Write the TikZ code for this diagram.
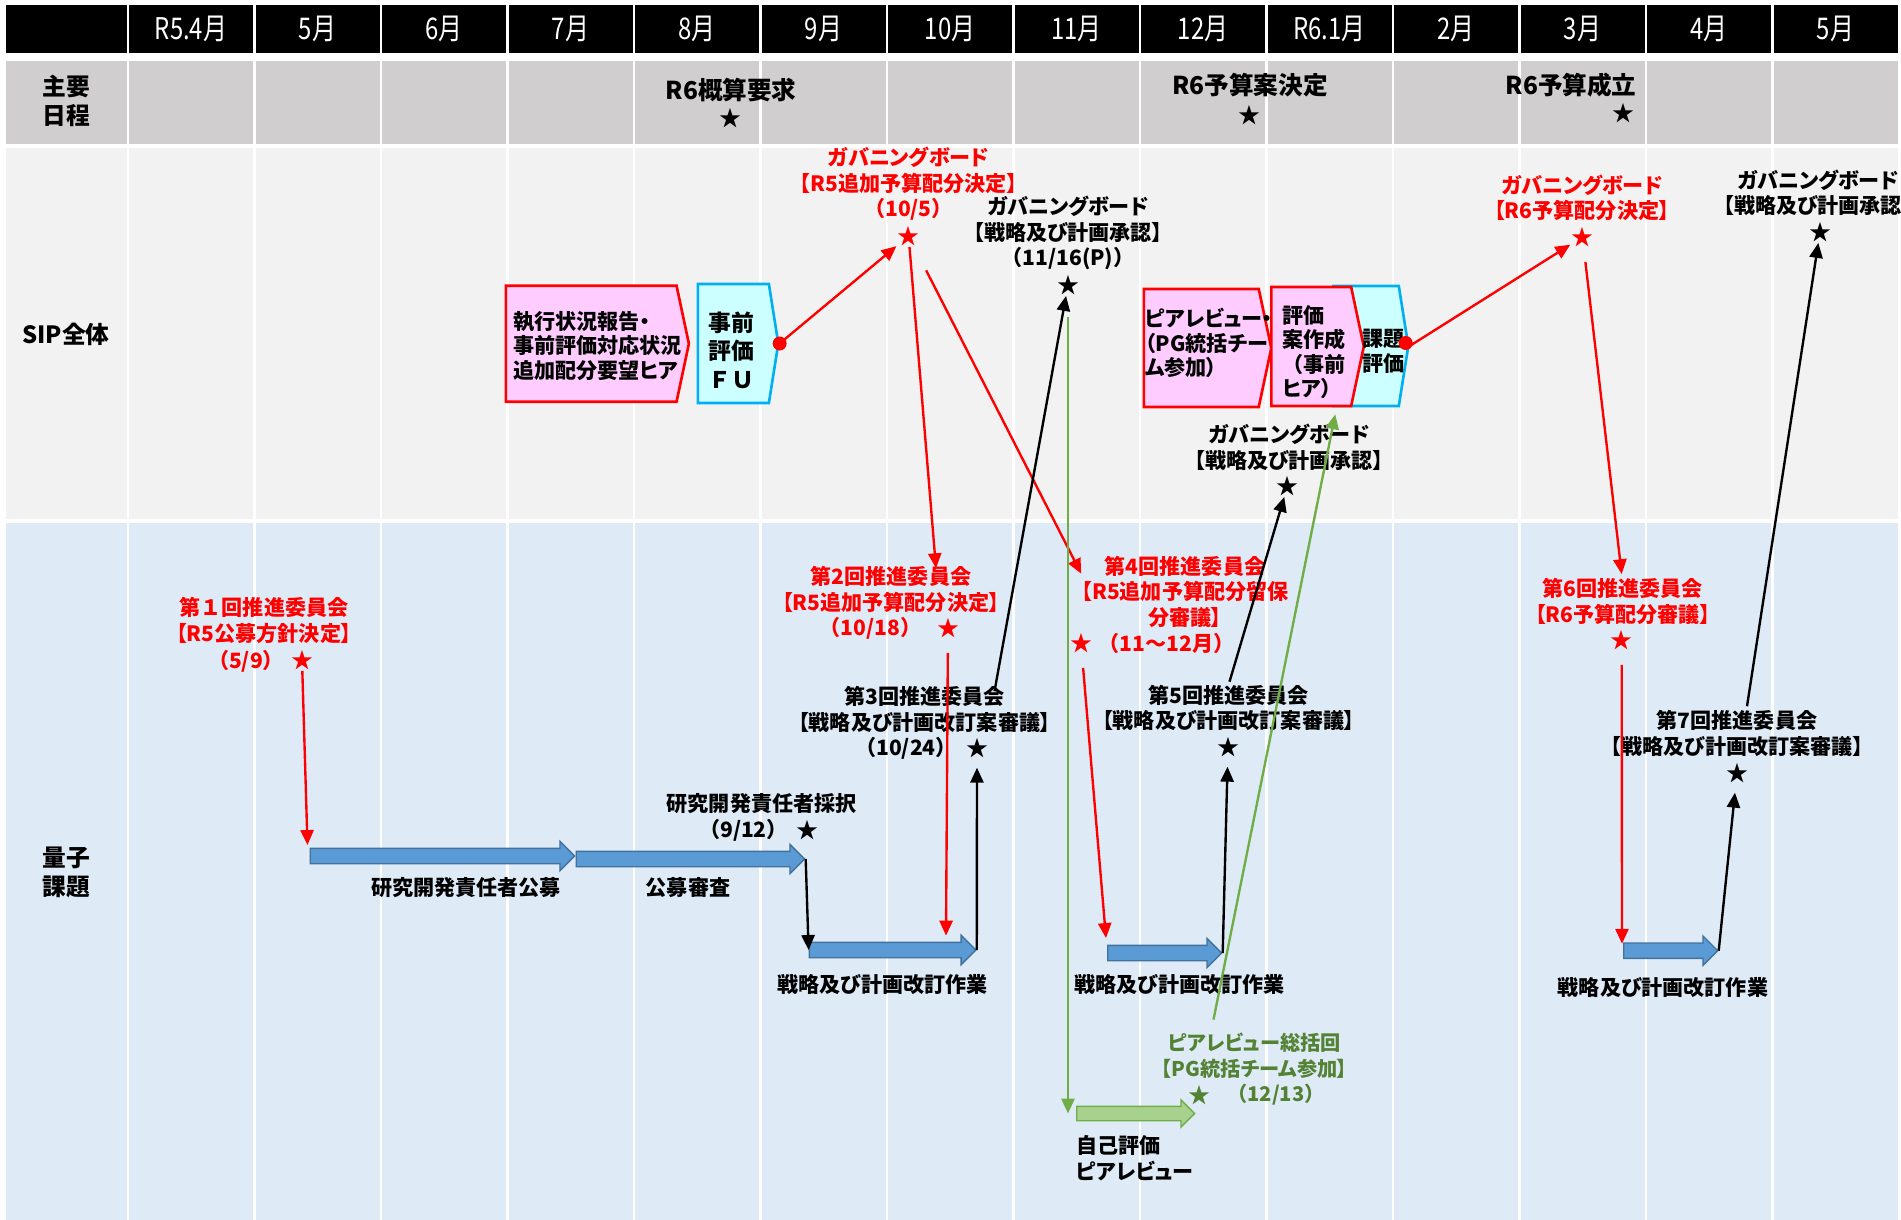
\documentclass[tikz,border=0pt]{standalone}
\usepackage{fontspec}
\setmainfont{Noto Sans CJK JP}[RawFeature=+palt]
\newfontfamily\narrowfont{Noto Sans CJK JP}[FakeStretch=0.8]
\newfontfamily\fullwidthfont{Noto Sans CJK JP}
\usetikzlibrary{positioning, calc, arrows.meta, shapes.arrows, shapes.symbols}

\definecolor{schedgray}{HTML}{D0CECE}
\definecolor{sipgray}{HTML}{F2F2F2}
\definecolor{qblue}{HTML}{DEEBF7}
\definecolor{boxpink}{HTML}{FFCCFF}
\definecolor{boxcyan}{HTML}{CCFFFF}
\definecolor{cyanline}{HTML}{00B0F0}
\definecolor{barblue}{HTML}{5B9BD5}
\definecolor{barline}{HTML}{41719C}
\definecolor{bargreen}{HTML}{A9D18E}
\definecolor{greenline}{HTML}{70AD47}
\definecolor{greentxt}{HTML}{548235}

\begin{document}
\begin{tikzpicture}[
    x=0.02cm, y=-0.02cm,
    monthlbl/.style={text=white, font=\narrowfont\fontsize{17}{17}\selectfont, inner sep=0pt},
    rowlbl/.style={font=\bfseries\fontsize{13.5}{16.5}\selectfont, align=center, inner sep=0pt},
    schedlbl/.style={font=\bfseries\fontsize{14}{16}\selectfont, inner sep=0pt},
    evt/.style={font=\bfseries\fontsize{12}{14.5}\selectfont, align=center, inner sep=0pt},
    evtred/.style={evt, text=red},
    evtgreen/.style={evt, text=greentxt, font=\bfseries\fontsize{11.5}{14.5}\selectfont},
    evtdate/.style={evt, font=\fullwidthfont\bfseries\fontsize{12}{14.5}\selectfont},
    evstar/.style={font=\fontsize{12.5}{12.5}\selectfont, inner sep=0.5pt},
    boxtxt/.style={font=\bfseries\fontsize{12}{14}\selectfont, align=left, inner sep=0pt, anchor=west},
    pinkbox/.style={signal, signal to=east, signal pointer angle=156, draw=red,
        line width=1.5pt, fill=boxpink, inner sep=0pt, anchor=west},
    cyanbox/.style={signal, signal to=east, signal pointer angle=162, draw=cyanline,
        line width=1.5pt, fill=boxcyan, inner sep=0pt, anchor=west},
    bar/.style={single arrow, single arrow head extend=0.14cm, minimum width=0.56cm,
        fill=barblue, draw=barline, line width=0.8pt, inner sep=0pt,
        inner ysep=0.14cm, anchor=west},
    greenbar/.style={bar, fill=bargreen, draw=greenline, minimum width=0.52cm,
        inner ysep=0.13cm, single arrow head extend=0.13cm},
    reddot/.style={circle, fill=red, minimum size=0.28cm, inner sep=0pt},
    conn/.style={-{Triangle[length=8.5pt, width=7.5pt]}, line width=1.35pt},
    redarr/.style={conn, red},
    blkarr/.style={conn, black},
    grnarr/.style={conn, greenline},
  ]
  \useasboundingbox (0,0) rectangle (1901,1220);
  \clip (0,0) rectangle (1901,1220);

  %% ── GRID ────────────────────────────────────────────────────────────────
  \fill[white]     (0,0)   rectangle (1901,1220);
  \fill[black]     (6,5)   rectangle (126.5,53);
  \fill[schedgray] (6,61)  rectangle (126.5,144);
  \fill[sipgray]   (6,148) rectangle (126.5,519);
  \fill[qblue]     (6,523) rectangle (126.5,1220);
  \foreach \m [count=\k from 0] in {R5.4月,5月,6月,7月,8月,9月,10月,11月,12月,R6.1月,2月,3月,4月,5月}{
    \pgfmathsetmacro\xl{129+126.5*\k}
    \pgfmathsetmacro\xr{\xl+124}
    \fill[black]     (\xl,5)   rectangle (\xr,53);
    \fill[schedgray] (\xl,61)  rectangle (\xr,144);
    \fill[sipgray]   (\xl,148) rectangle (\xr,519);
    \fill[qblue]     (\xl,523) rectangle (\xr,1220);
    \node[monthlbl] (m\k) at ({\xl+62},29) {\m};
  }

  %% ── ROW LABELS ──────────────────────────────────────────────────────────
  \node[rowlbl] (lsched) at (66,101) {主要\\日程};
  \node[rowlbl] (lsip)   at (66,334) {SIP全体};
  \node[rowlbl] (lquant) at (66,872) {量子\\課題};

  %% ── MAIN SCHEDULE ───────────────────────────────────────────────────────
  \node[schedlbl] (gaisan)   at (731,90)  {R6概算要求};
  \node[evstar]   (sgaisan)  at (730,118) {★};
  \node[schedlbl] (yosanan)  at (1250,85) {R6予算案決定};
  \node[evstar]   (syosanan) at (1249,115) {★};
  \node[schedlbl] (seiritsu) at (1571,85) {R6予算成立};
  \node[evstar]   (sseiritsu) at (1623,113) {★};

  %% ── SIP BOXES ───────────────────────────────────────────────────────────
  \node[pinkbox, minimum width=3.66cm, minimum height=2.32cm] (hearbox) at (504.6,343.7) {};
  \node[boxtxt] (heartxt) at (513,346) {執行状況報告・\\事前評価対応状況\\追加配分要望ヒア};
  \node[cyanbox, minimum width=1.61cm, minimum height=2.38cm] (fubox) at (696.5,343.5) {};
  \node[boxtxt, align=center, anchor=center, font=\fullwidthfont\bfseries\fontsize{13}{16.3}\selectfont]
    (futxt) at (731,350) {事前\\評価\\ＦＵ};
  \node[pinkbox, minimum width=2.55cm, minimum height=2.36cm] (pgbox) at (1142.5,348) {};
  \node[boxtxt] (pgtxt) at (1145,343) {ピアレビュー・\\（PG統括チー\\ム参加）};
  \node[cyanbox, minimum width=1.5cm, minimum height=2.4cm] (kadaibox) at (1332,346) {};
  \node[pinkbox, minimum width=1.85cm, minimum height=2.38cm] (hyoukabox) at (1270,346.5) {};
  \node[boxtxt] (hyoukatxt) at (1282,352)
    {評価\\案作成\\{\fullwidthfont （}事前\\ヒア{\fullwidthfont ）}};
  \node[boxtxt] (kadaitxt) at (1362,351) {課題\\評価};

  %% ── SIP EVENTS ──────────────────────────────────────────────────────────
  \node[evtred] (gb1) at (908.5,184)
    {ガバニングボード\\【R5追加予算配分決定】\\{\fullwidthfont （10/5）}};
  \node[evstar, text=red] (sgb1) at (908.6,236) {★};
  \node[evt] (gb2) at (1068,233)
    {ガバニングボード\\【戦略及び計画承認】\\{\fullwidthfont （11/16(P)）}};
  \node[evstar] (sgb2) at (1068,285) {★};
  \node[evt] (gb3) at (1289,447.5) {ガバニングボード\\【戦略及び計画承認】};
  \node[evstar] (sgb3) at (1287.5,486) {★};
  \node[evtred] (gb4) at (1582,198) {ガバニングボード\\【R6予算配分決定】};
  \node[evstar, text=red] (sgb4) at (1582.5,237) {★};
  \node[evt] (gb5) at (1818,193) {ガバニングボード\\【戦略及び計画承認】};
  \node[evstar] (sgb5) at (1820,232) {★};

  %% ── QUANTUM EVENTS ──────────────────────────────────────────────────────
  \node[evtred] (c1top)  at (264,620.5) {第{\fullwidthfont １}回推進委員会\\【R5公募方針決定】};
  \node[evtdate, text=red] (c1date) at (246,661) {（5/9）};
  \node[evstar, text=red] (sc1) at (302,660) {★};
  \node[evtred] (c2top)  at (891,589.5) {第2回推進委員会\\【R5追加予算配分決定】};
  \node[evtdate, text=red] (c2date) at (870.5,628) {（10/18）};
  \node[evstar, text=red] (sc2) at (948,628) {★};
  \node[evt] (c3top)  at (924.5,709.5) {第3回推進委員会\\【戦略及び計画改訂案審議】};
  \node[evtdate] (c3date) at (906,748) {（10/24）};
  \node[evstar] (sc3) at (977,748) {★};
  \node[evtred] (c4top)  at (1185,591.7) {第4回推進委員会\\【R5追加予算配分留保\\分審議】};
  \node[evtdate, text=red] (c4date) at (1166.5,643) {（11～12月）};
  \node[evstar, text=red] (sc4) at (1081,643) {★};
  \node[evt] (c5top) at (1228.5,708) {第5回推進委員会\\【戦略及び計画改訂案審議】};
  \node[evstar] (sc5) at (1228,747) {★};
  \node[evtred] (c6top) at (1622.7,601.5) {第6回推進委員会\\【R6予算配分審議】};
  \node[evstar, text=red] (sc6) at (1621.7,640) {★};
  \node[evt] (c7top) at (1737,733.5) {第7回推進委員会\\【戦略及び計画改訂案審議】};
  \node[evstar] (sc7) at (1737,773) {★};
  \node[evt] (saitaku)     at (761.7,804) {研究開発責任者採択};
  \node[evtdate] (saitakudate) at (743.5,830) {（9/12）};
  \node[evstar] (ssaitaku) at (807,830) {★};
  \node[evtgreen] (pgsum)     at (1254.5,1055.5) {ピアレビュー総括回\\【PG統括チーム参加】};
  \node[evtdate, text=greentxt, font=\fullwidthfont\bfseries\fontsize{11.5}{14.5}\selectfont]
    (pgsumdate) at (1276,1095) {（12/13）};
  \node[evstar, text=greentxt] (spgsum) at (1199,1095) {★};

  %% ── WORK BARS ───────────────────────────────────────────────────────────
  \node[bar, minimum height=5.29cm] (ba1) at (309.5,856) {};
  \node[bar, minimum height=4.57cm] (ba2) at (575.5,859) {};
  \node[bar, minimum height=3.33cm] (ba3) at (808.6,950) {};
  \node[bar, minimum height=2.28cm] (ba4) at (1107,953) {};
  \node[bar, minimum height=1.88cm] (ba5) at (1623,950.7) {};
  \node[greenbar, minimum height=2.36cm] (bag) at (1076,1113.5) {};
  \node[evt] (lkoubo)   at (466,888)    {研究開発責任者公募};
  \node[evt] (lshinsa)  at (688,888)    {公募審査};
  \node[evt] (lkaitei1) at (882.5,985)  {戦略及び計画改訂作業};
  \node[evt] (lkaitei2) at (1179.6,985) {戦略及び計画改訂作業};
  \node[evt] (lkaitei3) at (1663,988)   {戦略及び計画改訂作業};
  \node[evt, align=left, anchor=west] (ljiko) at (1076,1158) {自己評価\\ピアレビュー};

  %% ── ARROWS ──────────────────────────────────────────────────────────────
  \draw[redarr] (fubox.east) -- (sgb1);
  \draw[redarr] (sgb1) -- ($(c2top.north)+(45,2)$);
  \draw[redarr, shorten <=15pt] (sgb1) -- ($(c4top.north west)+(0,18)$);
  \draw[redarr] (sc1) -- ($(ba1.west)+(-2,-11)$);
  \draw[redarr, shorten <=8pt] (sc2) -- ($(sc2 |- ba3.north)+(-2,-6)$);
  \draw[redarr, shorten <=8pt] (sc4) -- ($(ba4.west)+(-1,-15)$);
  \draw[redarr] (kadaibox.east) -- (sgb4);
  \draw[redarr, shorten <=8pt] (sgb4) -- ($(c6top.north)+(-1,-4)$);
  \draw[redarr, shorten <=8pt] (sc6) -- ($(ba5.west)+(-1,-7)$);
  \draw[blkarr] (ba2.east) -- (ba3.west);
  \draw[blkarr, shorten >=5pt] (ba3.east) -- (sc3);
  \draw[blkarr] ($(c3top.north)+(70,5)$) -- (sgb2);
  \draw[blkarr, shorten >=5pt] (ba4.east) -- (sc5);
  \draw[blkarr] ($(c5top.north)+(1,-3)$) -- (sgb3);
  \draw[blkarr, shorten >=5pt] (ba5.east) -- (sc7);
  \draw[blkarr] ($(c7top.north)+(10,-4)$) -- (sgb5);
  \draw[grnarr, shorten <=12pt] (sgb2) -- (sgb2 |- bag.west);
  \draw[grnarr] ($(pgsum.north)+(-41,-13)$) -- ($(hyoukabox.south)+(24,7)$);

  \node[reddot] (dot1) at (fubox.east) {};
  \node[reddot] (dot2) at ($(kadaibox.east)+(-4,-3)$) {};
\end{tikzpicture}
\end{document}
